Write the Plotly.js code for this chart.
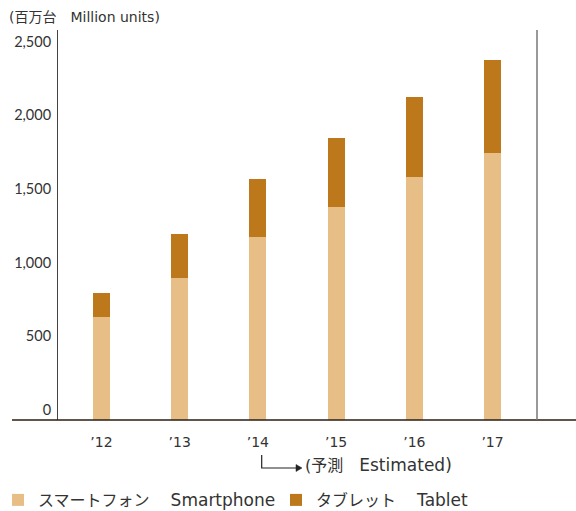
<!DOCTYPE html>
<html>
<head>
<meta charset="utf-8">
<script src="https://cdn.plot.ly/plotly-3.0.1.min.js"></script>
<style>html,body{margin:0;padding:0;background:#fff;}#chart{width:576px;height:511px;}</style>
</head>
<body>
<div id="chart"></div>
<script>
// Data (million units)
const years = ["’12", "’13", "’14", "’15", "’16", "’17"];
const smartphone = [700, 963, 1242, 1445, 1649, 1812];
const tablet = [162, 299, 393, 468, 543, 631];
const yTicks = [0, 500, 1000, 1500, 2000, 2500];
const seriesNames = ["スマートフォン　 <span style='font-size:17px'>Smartphone</span>",
                     "タブレット　 <span style='font-size:17px'>Tablet</span>"];
const unitLabel = "(百万台　Million units)";
const estimateLabel = "(予測　<span style='font-size:17px'>Estimated)</span>";

const FONT = "'DejaVu Sans', 'Noto Sans CJK JP', sans-serif";
const NUMFONT = "Lato, 'DejaVu Sans', sans-serif";
const TXT = "#333333";
const W = 576, H = 511, L = 58, R = 39, T = 30, B = 91;
const pw = W - L - R, ph = H - T - B;
const px = v => (v - L) / pw;      // pixel -> paper x
const py = v => (H - B - v) / ph;  // pixel -> paper y

const xIdx = years.map((_, i) => i);

const traces = [
  {type: "bar", name: seriesNames[0], x: xIdx, y: smartphone, width: 0.217,
   marker: {color: "#E8BE87", line: {width: 0}}, legend: "legend"},
  {type: "bar", name: seriesNames[1], x: xIdx, y: tablet, width: 0.217,
   marker: {color: "#BE781C", line: {width: 0}}, legend: "legend2"}
];

const legendBase = {orientation: "h", xanchor: "left", y: py(500), yanchor: "middle",
  font: {family: FONT, size: 16, color: TXT}, itemwidth: 30,
  bgcolor: "rgba(0,0,0,0)", borderwidth: 0};

const layout = {
  width: W, height: H,
  margin: {l: L, r: R, t: T, b: B, pad: 0, autoexpand: false},
  paper_bgcolor: "#ffffff", plot_bgcolor: "#ffffff",
  font: {family: FONT, color: TXT, size: 15},
  barmode: "stack",
  bargap: 0,
  showlegend: true,
  legend: Object.assign({}, legendBase, {x: px(-2)}),
  legend2: Object.assign({}, legendBase, {x: px(276)}),
  xaxis: {
    type: "linear", range: [-0.556, 5.569], automargin: false,
    tickmode: "array", tickvals: xIdx, ticktext: years,
    showgrid: false, zeroline: false, showline: false, ticks: "",
    ticklabelstandoff: 12,
    tickfont: {family: FONT, size: 14, color: TXT}, fixedrange: true
  },
  yaxis: {
    range: [0, 2646], automargin: false,
    tickmode: "array", tickvals: yTicks, tickformat: ",d",
    showgrid: false, zeroline: false, ticks: "",
    showline: true, linecolor: "#444444", linewidth: 1,
    ticklabelshift: -10, ticklabelstandoff: 3,
    tickfont: {family: NUMFONT, size: 14.5, color: TXT}, fixedrange: true
  },
  shapes: [
    // baseline extending beyond plot
    {type: "line", xref: "paper", yref: "paper", x0: px(12), x1: px(576), y0: 0, y1: 0,
     line: {color: "#2b1d10", width: 1.5}},
    // right vertical rule
    {type: "line", xref: "paper", yref: "paper", x0: px(537), x1: px(537), y0: 0, y1: 1,
     line: {color: "#777777", width: 1.5}},
    // estimate bracket arrow
    {type: "path", xref: "paper", yref: "paper",
     path: `M${px(261.7)},${py(455)} L${px(261.7)},${py(468)} L${px(297)},${py(468)}`,
     line: {color: "#222222", width: 1.2}},
    {type: "path", xref: "paper", yref: "paper",
     path: `M${px(296)},${py(464.5)} L${px(302)},${py(468)} L${px(296)},${py(471.5)} Z`,
     fillcolor: "#222222", line: {color: "#222222", width: 0.5}}
  ],
  annotations: [
    {text: unitLabel, xref: "paper", yref: "paper", x: px(7), y: py(17),
     xanchor: "left", yanchor: "middle", showarrow: false,
     font: {family: FONT, size: 14, color: TXT}},
    {text: estimateLabel, xref: "paper", yref: "paper", x: px(303), y: py(465),
     xanchor: "left", yanchor: "middle", showarrow: false,
     font: {family: FONT, size: 16, color: TXT}}
  ]
};

Plotly.newPlot("chart", traces, layout, {staticPlot: true, displayModeBar: false});
</script>
</body>
</html>
